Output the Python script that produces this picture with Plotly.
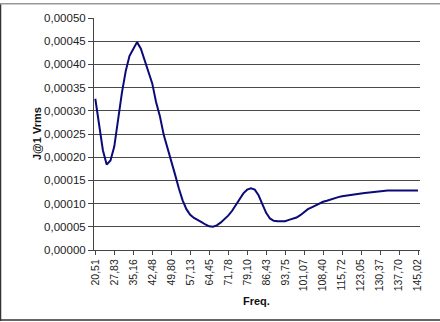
import plotly.graph_objects as go

# Frequency of each measured point (Hz)
freq = [
    20.51, 21.97, 23.44, 24.90, 26.37, 27.83, 29.30, 30.76, 32.23, 33.69,
    35.16, 36.62, 38.09, 39.55, 41.02, 42.48, 43.95, 45.41, 46.88, 48.34,
    49.80, 51.27, 52.73, 54.20, 55.66, 57.13, 58.59, 60.06, 61.52, 62.99,
    64.45, 65.92, 67.38, 68.85, 70.31, 71.78, 73.24, 74.71, 76.17, 77.64,
    79.10, 80.57, 82.03, 83.50, 84.96, 86.43, 87.89, 89.36, 90.82, 92.29,
    93.75, 95.21, 96.68, 98.14, 99.61, 101.07, 102.54, 104.00, 105.47, 106.93,
    108.40, 109.86, 111.33, 112.79, 114.26, 115.72, 117.19, 118.65, 120.12, 121.58,
    123.05, 124.51, 125.98, 127.44, 128.91, 130.37, 131.84, 133.30, 134.77, 136.23,
    137.70, 139.16, 140.63, 142.09, 143.56, 145.02,
]

# Response J @ 1 Vrms
j_1vrms = [
    0.000326, 0.000270, 0.000215, 0.000184, 0.000193, 0.000223, 0.000283, 0.000338, 0.000385, 0.000418,
    0.000433, 0.000448, 0.000434, 0.000410, 0.000381, 0.000359, 0.000319, 0.000289, 0.000249, 0.000222,
    0.000193, 0.000163, 0.000133, 0.000107, 0.000088, 0.000076, 0.000069, 0.000065, 0.000060, 0.000055,
    0.000051, 0.000050, 0.000053, 0.000059, 0.000066, 0.000074, 0.000084, 0.000096, 0.000110, 0.000122,
    0.000130, 0.000133, 0.000130, 0.000118, 0.000099, 0.000080, 0.000068, 0.000063, 0.000062, 0.000062,
    0.000062, 0.000065, 0.000068, 0.000070, 0.000075, 0.000082, 0.000088, 0.000092, 0.000096, 0.000100,
    0.000104, 0.000106, 0.000109, 0.000112, 0.000114, 0.000116, 0.0001175, 0.000119, 0.000120, 0.000121,
    0.000122, 0.000123, 0.000124, 0.000125, 0.000126, 0.000127, 0.0001275, 0.000128, 0.000128, 0.000128,
    0.000128, 0.000128, 0.000128, 0.000128, 0.000128, 0.000128,
]

# Category labels shown on the frequency axis
x_tick_labels = [
    "20,51", "27,83", "35,16", "42,48", "49,80", "57,13", "64,45", "71,78", "79,10",
    "86,43", "93,75", "101,07", "108,40", "115,72", "123,05", "130,37", "137,70", "145,02",
]
x_tick_vals = freq[::5]

y_tick_vals = [0.0, 0.00005, 0.0001, 0.00015, 0.0002, 0.00025, 0.0003, 0.00035, 0.0004, 0.00045, 0.0005]
y_tick_labels = ["0,00000", "0,00005", "0,00010", "0,00015", "0,00020", "0,00025",
                 "0,00030", "0,00035", "0,00040", "0,00045", "0,00050"]
y_grid_vals = y_tick_vals[1:-1]

FONT = "Liberation Sans, Arial, sans-serif"
W, H = 440, 322
L, R, T, B = 94, 20, 15, 72
pw, ph = W - L - R, H - T - B

fig = go.Figure()
fig.add_trace(go.Scatter(
    x=freq, y=j_1vrms, mode="lines",
    line=dict(color="#0a0a78", width=2),
    showlegend=False, hoverinfo="skip",
))
# invisible trace carrying the gridline axis
fig.add_trace(go.Scatter(x=[freq[0]], y=[0], yaxis="y2", mode="markers",
                         marker=dict(opacity=0), showlegend=False, hoverinfo="skip"))

fig.update_layout(
    width=W, height=H,
    margin=dict(l=L, r=R, t=T, b=B),
    paper_bgcolor="white", plot_bgcolor="white",
    font=dict(family=FONT, color="#222"),
    xaxis=dict(
        range=[20.01, 145.79],
        tickvals=x_tick_vals, ticktext=x_tick_labels,
        tickangle=-90, tickfont=dict(size=10.5),
        ticks="outside", ticklen=4, tickcolor="#444",
        showline=True, linecolor="#444", linewidth=1,
        showgrid=False, zeroline=False,
    ),
    yaxis=dict(
        range=[0, 0.0005],
        tickvals=y_tick_vals, ticktext=y_tick_labels,
        tickfont=dict(size=11.5),
        ticks="outside", ticklen=5, tickcolor="#444",
        showline=True, linecolor="#444", linewidth=1,
        showgrid=False, zeroline=False,
    ),
    yaxis2=dict(
        range=[0, 0.0005], overlaying="y", side="left",
        tickvals=y_grid_vals, showticklabels=False, ticks="",
        showgrid=True, gridcolor="#4a4a4a", gridwidth=1.3,
        showline=False, zeroline=False,
    ),
    annotations=[
        dict(text="<b>J@1 Vrms</b>", textangle=-90, xref="paper", yref="paper",
             x=(37 - L) / pw, y=0.5, showarrow=False, font=dict(size=11, color="#111"),
             xanchor="center", yanchor="middle"),
        dict(text="<b>Freq.</b>", xref="paper", yref="paper",
             x=(256 - L) / pw, y=(T + ph - 302) / ph, showarrow=False,
             font=dict(size=11, color="#111"), xanchor="center", yanchor="middle"),
    ],
    shapes=[
        # chart frame
        dict(type="line", xref="paper", yref="paper",
             x0=(0.5 - L) / pw, x1=(0.5 - L) / pw, y0=(T + ph - 322) / ph, y1=(T + ph) / ph,
             line=dict(color="#333", width=1.5)),
        dict(type="line", xref="paper", yref="paper",
             x0=(0 - L) / pw, x1=(W - L) / pw, y0=(T + ph - 321) / ph, y1=(T + ph - 321) / ph,
             line=dict(color="#333", width=1.5)),
        dict(type="line", xref="paper", yref="paper",
             x0=(0 - L) / pw, x1=(W - L) / pw, y0=(T + ph - 0.5) / ph, y1=(T + ph - 0.5) / ph,
             line=dict(color="#999", width=1.5)),
    ],
)

fig.write_html("out.html")
